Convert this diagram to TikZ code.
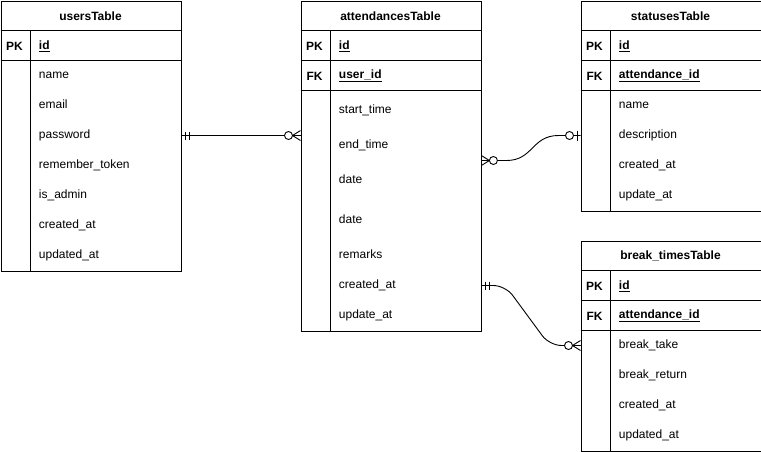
\documentclass[tikz,border=0pt]{standalone}
\usepackage{fontspec}
\setmainfont{Liberation Sans}
\usetikzlibrary{calc, positioning}

\tikzset{
  tbl/.style={draw, anchor=north west, minimum width=180pt, inner sep=0pt},
  head/.style={font=\fontsize{12}{14}\selectfont\bfseries},
  key/.style={font=\fontsize{12}{14}\selectfont\bfseries},
  keyname/.style={anchor=west, inner sep=0pt, font=\fontsize{12}{14}\selectfont\bfseries},
  field/.style={anchor=west, inner sep=0pt, text height=9pt, text depth=2.5pt, font=\fontsize{12}{14}\selectfont},
  mandone/.pic={\draw (4,-4) -- (4,4) (8,-4) -- (8,4);},
  zeromany/.pic={\draw (0,-5) -- (8,0) -- (0,5) (0,0) -- (8,0);
    \draw[fill=white] (12,0) circle[radius=4pt];},
  zeroone/.pic={\draw (3,-5) -- (3,5);
    \draw[fill=white] (11,0) circle[radius=4pt];}
}

\begin{document}
\begin{tikzpicture}[x=1pt, y=-1pt, line width=0.9pt]
  \useasboundingbox (0,0) rectangle (761,451);

  % tables
  \node[tbl, minimum height=270pt] (users) at (0.5,0.5) {};
  \node[tbl, minimum height=330pt] (att) at (300.5,0.5) {};
  \node[tbl, minimum height=210pt] (stat) at (580.5,0.5) {};
  \node[tbl, minimum height=210pt] (brk) at (580.5,240.5) {};

  % users
  \node[head] at ($(users.north west)+(90,15.5)$) {usersTable};
  \draw ($(users.north west)+(0,30)$) -- ($(users.north east)+(0,30)$)
        ($(users.north west)+(0,60)$) -- ($(users.north east)+(0,60)$)
        ($(users.north west)+(30,30)$) -- ($(users.south west)+(30,0)$);
  \node[key] at ($(users.north west)+(14,45.5)$) {PK};
  \node[keyname] at ($(users.north west)+(38,45.5)$) {\underline{id}};
  \foreach \n [count=\i] in {name, email, password, remember\_token, is\_admin, created\_at, updated\_at}
    \node[field] (users-\i) at ($(users.north west)+(38,45+30*\i)$) {\n};

  % attendances
  \node[head] at ($(att.north west)+(90,15.5)$) {attendancesTable};
  \draw ($(att.north west)+(0,30)$) -- ($(att.north east)+(0,30)$)
        ($(att.north west)+(0,60)$) -- ($(att.north east)+(0,60)$)
        ($(att.north west)+(0,90)$) -- ($(att.north east)+(0,90)$)
        ($(att.north west)+(30,30)$) -- ($(att.south west)+(30,0)$);
  \node[key] at ($(att.north west)+(14,45.5)$) {PK};
  \node[keyname] at ($(att.north west)+(38,45.5)$) {\underline{id}};
  \node[key] at ($(att.north west)+(14,75.5)$) {FK};
  \node[keyname] at ($(att.north west)+(38,75.5)$) {\underline{user\_id}};
  \foreach \y/\n [count=\i] in {110/start\_time, 145/end\_time, 180/date, 220/date, 255/remarks, 285/created\_at, 315/update\_at}
    \node[field] (att-\i) at ($(att.north west)+(38,\y)$) {\n};

  % statuses
  \node[head] at ($(stat.north west)+(90,15.5)$) {statusesTable};
  \draw ($(stat.north west)+(0,30)$) -- ($(stat.north east)+(0,30)$)
        ($(stat.north west)+(0,60)$) -- ($(stat.north east)+(0,60)$)
        ($(stat.north west)+(0,90)$) -- ($(stat.north east)+(0,90)$)
        ($(stat.north west)+(30,30)$) -- ($(stat.south west)+(30,0)$);
  \node[key] at ($(stat.north west)+(14,45.5)$) {PK};
  \node[keyname] at ($(stat.north west)+(38,45.5)$) {\underline{id}};
  \node[key] at ($(stat.north west)+(14,75.5)$) {FK};
  \node[keyname] at ($(stat.north west)+(38,75.5)$) {\underline{attendance\_id}};
  \foreach \n [count=\i] in {name, description, created\_at, update\_at}
    \node[field] (stat-\i) at ($(stat.north west)+(38,75+30*\i)$) {\n};

  % break times
  \node[head] at ($(brk.north west)+(90,15.5)$) {break\_timesTable};
  \draw ($(brk.north west)+(0,30)$) -- ($(brk.north east)+(0,30)$)
        ($(brk.north west)+(0,60)$) -- ($(brk.north east)+(0,60)$)
        ($(brk.north west)+(0,90)$) -- ($(brk.north east)+(0,90)$)
        ($(brk.north west)+(30,30)$) -- ($(brk.south west)+(30,0)$);
  \node[key] at ($(brk.north west)+(14,45.5)$) {PK};
  \node[keyname] at ($(brk.north west)+(38,45.5)$) {\underline{id}};
  \node[key] at ($(brk.north west)+(14,75.5)$) {FK};
  \node[keyname] at ($(brk.north west)+(38,75.5)$) {\underline{attendance\_id}};
  \foreach \n [count=\i] in {break\_take, break\_return, created\_at, updated\_at}
    \node[field] (brk-\i) at ($(brk.north west)+(38,75+30*\i)$) {\n};

  % relations
  \draw (users.east |- users-3) -- (att.west |- users-3);
  \pic at (users.east |- users-3) {mandone};
  \pic[xscale=-1] at (att.west |- users-3) {zeromany};

  \coordinate (att-st) at ($(att.north east)+(0,160)$);
  \draw (att-st) -- ++(25,0) .. controls +(27,0) and +(-27,0) .. ($(stat.west |- stat-2)+(-22,0)$) -- (stat.west |- stat-2);
  \pic at (att-st) {zeromany};
  \pic[xscale=-1] at (stat.west |- stat-2) {zeroone};

  \draw[rounded corners=12pt] (att.east |- att-6) -- ++(24,0) -- ($(brk.west |- brk-1)+(-31,0)$) -- (brk.west |- brk-1);
  \pic at (att.east |- att-6) {mandone};
  \pic[xscale=-1] at (brk.west |- brk-1) {zeromany};
\end{tikzpicture}
\end{document}
